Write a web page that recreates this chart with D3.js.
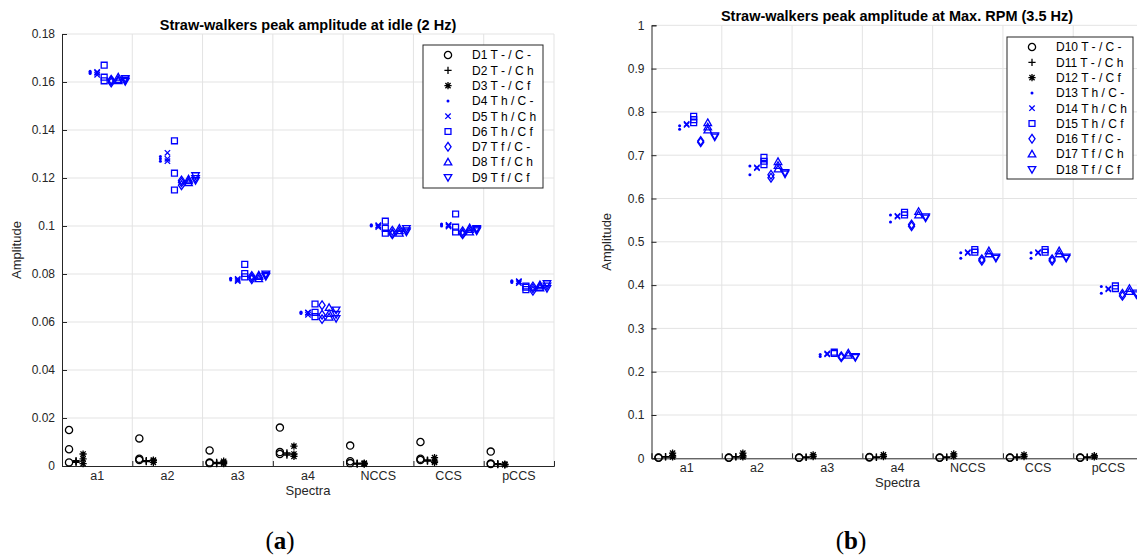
<!DOCTYPE html>
<html><head><meta charset="utf-8">
<script src="https://cdn.jsdelivr.net/npm/d3@7"></script>
<style>
html,body{margin:0;padding:0;background:#fff;}
svg{display:block;}
text{font-family:"Liberation Sans",Arial,Helvetica,sans-serif;}
</style></head>
<body>
<svg id="chart" width="1137" height="557"></svg>
<script>
// ---------------- DATA ----------------
const categories = ["a1","a2","a3","a4","NCCS","CCS","pCCS"];
const yTicksA = [0,0.02,0.04,0.06,0.08,0.1,0.12,0.14,0.16,0.18];
const yTicksB = [0,0.1,0.2,0.3,0.4,0.5,0.6,0.7,0.8,0.9,1];
const titleA = "Straw-walkers peak amplitude at idle (2 Hz)";
const titleB = "Straw-walkers peak amplitude at Max. RPM (3.5 Hz)";
const legendA = ["D1 T - / C -","D2 T - / C h","D3 T - / C f","D4 T h / C -","D5 T h / C h","D6 T h / C f","D7 T f / C -","D8 T f / C h","D9 T f / C f"];
const legendB = ["D10 T - / C -","D11 T - / C h","D12 T - / C f","D13 T h / C -","D14 T h / C h","D15 T h / C f","D16 T f / C -","D17 T f / C h","D18 T f / C f"];
const markerTypes = ["o","+","*",".","x","s","d","^","v"];
const markerColors = ["#000","#000","#000","#0000ff","#0000ff","#0000ff","#0000ff","#0000ff","#0000ff"];

// chart (a): values per category (repeated measurements)
const D1 = [[0.015,0.007,0.0015],[0.0115,0.003,0.0025],[0.0065,0.0015,0.0012],[0.016,0.0058,0.005],[0.0085,0.002,0.0012],[0.010,0.003,0.0025],[0.006,0.001,0.0008]];
const D2 = [[0.0018,0.0015,0.0022],[0.002,0.0018,0.0022],[0.0012,0.001,0.0015],[0.005,0.0045,0.0055],[0.0012,0.001,0.0008],[0.0025,0.002,0.0022],[0.0008,0.0006,0.001]];
const D3 = [[0.005,0.003,0.001],[0.0022,0.0015,0.0025],[0.0015,0.001,0.002],[0.0083,0.005,0.004],[0.0012,0.0008,0.001],[0.0035,0.002,0.0015],[0.0008,0.0005,0.0006]];
const D4 = [[0.1645,0.1635,0.164],[0.129,0.127,0.128],[0.078,0.0775,0.0782],[0.0642,0.0635,0.064],[0.1005,0.1,0.1002],[0.1005,0.1,0.1008],[0.077,0.0765,0.0772]];
const D5 = [[0.1642,0.1638,0.163],[0.1305,0.128,0.127],[0.0775,0.078,0.077],[0.0638,0.064,0.063],[0.1,0.1003,0.0995],[0.1002,0.0998,0.1005],[0.0768,0.0762,0.077]];
const D6 = [[0.167,0.162,0.1605],[0.1355,0.122,0.115],[0.084,0.0802,0.0788],[0.0675,0.064,0.0622],[0.102,0.099,0.097],[0.105,0.0995,0.0975],[0.075,0.0735,0.0745]];
const D7 = [[0.1598,0.1605,0.161],[0.119,0.117,0.1182],[0.0785,0.0778,0.0792],[0.067,0.063,0.0612],[0.097,0.0965,0.098],[0.097,0.0978,0.0965],[0.074,0.073,0.0748]];
const D8 = [[0.161,0.1605,0.162],[0.1195,0.118,0.1188],[0.079,0.078,0.0795],[0.066,0.062,0.0635],[0.098,0.097,0.099],[0.0985,0.0975,0.0992],[0.075,0.0742,0.0755]];
const D9 = [[0.1615,0.1602,0.1608],[0.121,0.119,0.1198],[0.08,0.079,0.0795],[0.065,0.0632,0.0615],[0.099,0.098,0.0975],[0.099,0.098,0.0985],[0.076,0.074,0.075]];

// chart (b)
const D10 = [[0.002,0.001],[0.002,0.001],[0.002,0.001],[0.003,0.002],[0.002,0.001],[0.002,0.001],[0.002,0.001]];
const D11 = [[0.004,0.003],[0.004,0.003],[0.003,0.002],[0.003,0.002],[0.003,0.002],[0.003,0.002],[0.003,0.002]];
const D12 = [[0.012,0.006,0.003],[0.012,0.006,0.003],[0.008,0.004],[0.008,0.004],[0.010,0.005],[0.008,0.004],[0.006,0.003]];
const D13 = [[0.768,0.76],[0.675,0.655],[0.24,0.235],[0.562,0.546],[0.475,0.462],[0.475,0.462],[0.397,0.381]];
const D14 = [[0.772,0.77],[0.672,0.67],[0.242,0.24],[0.56,0.558],[0.476,0.474],[0.476,0.474],[0.392,0.39]];
const D15 = [[0.79,0.782,0.775],[0.695,0.686,0.678],[0.245,0.242],[0.568,0.562],[0.482,0.476],[0.482,0.476],[0.398,0.392]];
const D16 = [[0.733,0.73],[0.655,0.648],[0.236,0.233],[0.54,0.536],[0.456,0.46],[0.456,0.46],[0.375,0.38]];
const D17 = [[0.775,0.765,0.758],[0.685,0.676,0.668],[0.243,0.238],[0.57,0.562],[0.479,0.472],[0.479,0.472],[0.392,0.385]];
const D18 = [[0.745,0.742],[0.66,0.657],[0.235,0.233],[0.558,0.555],[0.465,0.462],[0.465,0.462],[0.382,0.378]];

const seriesA = [D1,D2,D3,D4,D5,D6,D7,D8,D9];
const seriesB = [D10,D11,D12,D13,D14,D15,D16,D17,D18];

// ---------------- DRAWING ----------------
const svg = d3.select("#chart");

function markerPath(type, r){
  const p = d3.path();
  switch(type){
    case "o": p.moveTo(r,0); p.arc(0,0,r,0,2*Math.PI); break;
    case "+": p.moveTo(-r,0); p.lineTo(r,0); p.moveTo(0,-r); p.lineTo(0,r); break;
    case "x": { const s=r*0.75; p.moveTo(-s,-s); p.lineTo(s,s); p.moveTo(-s,s); p.lineTo(s,-s); break; }
    case "*": { p.moveTo(-r,0); p.lineTo(r,0); p.moveTo(0,-r); p.lineTo(0,r); const s=r*0.72; p.moveTo(-s,-s); p.lineTo(s,s); p.moveTo(-s,s); p.lineTo(s,-s); break; }
    case "s": { const s=r*0.82; p.rect(-s,-s,2*s,2*s); break; }
    case "d": { const h=r*1.2, w=r*0.85; p.moveTo(0,-h); p.lineTo(w,0); p.lineTo(0,h); p.lineTo(-w,0); p.closePath(); break; }
    case "^": { const h=r*1.05; p.moveTo(0,-h); p.lineTo(h,h*0.75); p.lineTo(-h,h*0.75); p.closePath(); break; }
    case "v": { const h=r*1.05; p.moveTo(0,h); p.lineTo(h,-h*0.75); p.lineTo(-h,-h*0.75); p.closePath(); break; }
  }
  return p.toString();
}

function drawMarker(g, type, color, x, y){
  if(type === "."){
    g.append("circle").attr("cx",x).attr("cy",y).attr("r",1.5).attr("fill",color);
    return;
  }
  g.append("path").attr("d", markerPath(type, 3.6)).attr("transform",`translate(${x},${y})`)
    .attr("fill","none").attr("stroke",color).attr("stroke-width",1.3);
}

function drawChart(cfg){
  const g = svg.append("g");
  const x = d3.scaleLinear().domain([0, categories.length]).range([cfg.left, cfg.right]);
  const y = d3.scaleLinear().domain([0, cfg.yMax]).range([cfg.bottom, cfg.top]);
  const gridColor = "#e3e3e3", axisColor = "#262626";

  // grid
  g.append("g").selectAll("line").data(cfg.yTicks.slice(1)).join("line")
    .attr("x1",cfg.left).attr("x2",cfg.right).attr("y1",d=>y(d)).attr("y2",d=>y(d))
    .attr("stroke",gridColor).attr("stroke-width",1);
  g.append("g").selectAll("line").data(d3.range(1, categories.length+1)).join("line")
    .attr("x1",d=>x(d)).attr("x2",d=>x(d)).attr("y1",cfg.top).attr("y2",cfg.bottom)
    .attr("stroke",gridColor).attr("stroke-width",1);

  // y axis
  const yAxis = d3.axisLeft(y).tickValues(cfg.yTicks).tickSize(-5).tickPadding(7)
    .tickFormat(d=>d3.format("")(+d.toFixed(2)));
  const ya = g.append("g").attr("transform",`translate(${cfg.left},0)`).call(yAxis);
  ya.select(".domain").attr("stroke",axisColor);
  ya.selectAll(".tick line").attr("stroke",axisColor);
  ya.selectAll("text").attr("font-size",12).attr("fill","#262626").style("font-family","Liberation Sans, Arial");

  // x axis
  const xAxis = d3.axisBottom(x).tickValues(d3.range(0, categories.length+1)).tickSize(-5).tickFormat("");
  const xa = g.append("g").attr("transform",`translate(0,${cfg.bottom})`).call(xAxis);
  xa.select(".domain").attr("stroke",axisColor);
  xa.selectAll(".tick line").attr("stroke",axisColor);
  g.append("g").selectAll("text").data(categories).join("text")
    .attr("x",(d,i)=>x(i+0.5)).attr("y",cfg.bottom+14).attr("text-anchor","middle")
    .attr("font-size",12.5).attr("fill","#262626").text(d=>d);

  // labels
  g.append("text").attr("x",(cfg.left+cfg.right)/2).attr("y",cfg.bottom+29).attr("text-anchor","middle")
    .attr("font-size",13).attr("fill","#262626").text("Spectra");
  g.append("text").attr("transform",`translate(${cfg.left-41},${(cfg.top+cfg.bottom)/2}) rotate(-90)`)
    .attr("text-anchor","middle").attr("font-size",13).attr("fill","#262626").text("Amplitude");
  g.append("text").attr("x",cfg.titleX).attr("y",cfg.top-4).attr("text-anchor","middle")
    .attr("font-size",14.5).attr("font-weight","bold").attr("fill","#000").text(cfg.title);

  // data markers
  const mg = g.append("g");
  cfg.series.forEach((ser, j) => {
    ser.forEach((vals, ci) => {
      vals.forEach(v => drawMarker(mg, markerTypes[j], markerColors[j], x(ci + 0.1*(j+1)), y(v)));
    });
  });

  // legend
  const lg = g.append("g");
  lg.append("rect").attr("x",cfg.legX).attr("y",cfg.legY).attr("width",cfg.legW).attr("height",cfg.legH)
    .attr("fill","#fff").attr("stroke","#262626").attr("stroke-width",1);
  cfg.legend.forEach((lab, j) => {
    const ry = cfg.legY + 10 + j*15.3;
    drawMarker(lg, markerTypes[j], markerColors[j], cfg.legX + 25, ry);
    lg.append("text").attr("x",cfg.legX + 49).attr("y",ry+4.3).attr("font-size",12).attr("fill","#000").text(lab);
  });
}

drawChart({left:62, right:554, top:34, bottom:466, yMax:0.18, yTicks:yTicksA, series:seriesA,
  legend:legendA, title:titleA, titleX:308, legX:423, legY:45, legW:120, legH:143});
drawChart({left:651.5, right:1143.5, top:25.3, bottom:458.3, yMax:1, yTicks:yTicksB, series:seriesB,
  legend:legendB, title:titleB, titleX:897, legX:1007, legY:37, legW:126, legH:142});

// captions
function caption(cx, letter){
  const t = svg.append("text").attr("x",cx).attr("y",549).attr("text-anchor","middle")
    .attr("font-size",25).style("font-family","Liberation Serif, DejaVu Serif, serif").attr("fill","#000");
  t.append("tspan").text("(");
  t.append("tspan").attr("font-weight","bold").text(letter);
  t.append("tspan").text(")");
}
caption(280, "a");
caption(851, "b");
</script>
</body></html>
